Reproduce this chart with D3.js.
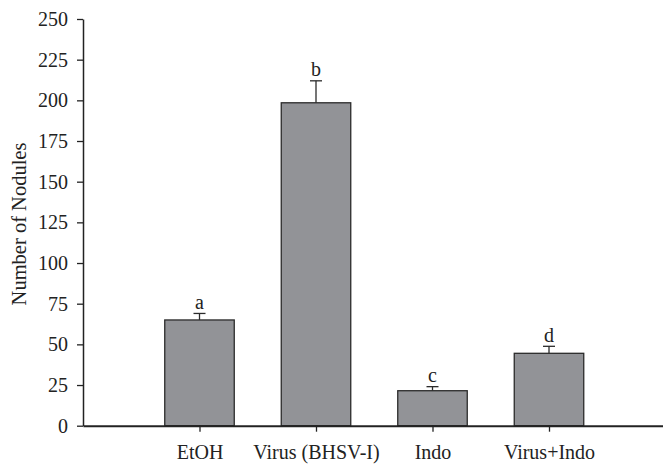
<!DOCTYPE html>
<html>
<head>
<meta charset="utf-8">
<script src="https://cdn.jsdelivr.net/npm/d3@7"></script>
<style>
  html, body { margin: 0; padding: 0; background: #fff; }
  svg text { font-family: "Liberation Serif", "Times New Roman", serif; fill: #222; }
</style>
</head>
<body>
<svg id="chart" width="663" height="465"></svg>
<script>
const categories = ["EtOH", "Virus (BHSV-I)", "Indo", "Virus+Indo"];
const values = [65, 198.5, 21.5, 44.5];
const errors = [4, 13.5, 2.5, 4.3];
const letters = ["a", "b", "c", "d"];
const yTicks = [0, 25, 50, 75, 100, 125, 150, 175, 200, 225, 250];
const yTitle = "Number of Nodules";

const svg = d3.select("#chart");
const x0 = 83, x1 = 665.5, yBottom = 425.7, yTop = 19;

const x = d3.scalePoint().domain(categories).range([x0, x1]).padding(1);
const y = d3.scaleLinear().domain([0, 250]).range([yBottom, yTop]);
const barW = 69.5;
const capW = 12;

// bars
svg.append("g").selectAll("rect").data(categories).join("rect")
  .attr("x", d => x(d) - barW / 2)
  .attr("y", (d, i) => y(values[i]))
  .attr("width", barW)
  .attr("height", (d, i) => y(0) - y(values[i]))
  .attr("fill", "#929397")
  .attr("stroke", "#2b2b2b")
  .attr("stroke-width", 1.3);

// error bars
const eg = svg.append("g").attr("stroke", "#2b2b2b").attr("stroke-width", 1.3);
eg.selectAll("line.v").data(categories).join("line").attr("class", "v")
  .attr("x1", d => x(d)).attr("x2", d => x(d))
  .attr("y1", (d, i) => y(values[i])).attr("y2", (d, i) => y(values[i] + errors[i]));
eg.selectAll("line.c").data(categories).join("line").attr("class", "c")
  .attr("x1", d => x(d) - capW / 2).attr("x2", d => x(d) + capW / 2)
  .attr("y1", (d, i) => y(values[i] + errors[i])).attr("y2", (d, i) => y(values[i] + errors[i]));

// letters
svg.append("g").selectAll("text").data(categories).join("text")
  .attr("x", d => x(d))
  .attr("y", (d, i) => y(values[i] + errors[i]) - 4.5)
  .attr("text-anchor", "middle")
  .attr("font-size", 20)
  .text((d, i) => letters[i]);

// y axis
const yAxis = svg.append("g").attr("transform", `translate(${x0},0)`)
  .call(d3.axisLeft(y).tickValues(yTicks).tickSize(6).tickPadding(9).tickSizeOuter(0));
yAxis.select(".domain").attr("stroke", "#222").attr("stroke-width", 1.5);
yAxis.selectAll(".tick line").attr("stroke", "#222").attr("stroke-width", 1.3);
yAxis.selectAll(".tick text").attr("font-size", 20).attr("font-family", "Liberation Serif").attr("fill", "#222");

// x axis
const xAxis = svg.append("g").attr("transform", `translate(0,${yBottom})`)
  .call(d3.axisBottom(x).tickSize(6).tickPadding(13).tickSizeOuter(0));
xAxis.select(".domain").attr("stroke", "#222").attr("stroke-width", 2);
xAxis.selectAll(".tick line").attr("stroke", "#222").attr("stroke-width", 1.3);
xAxis.selectAll(".tick text").attr("font-size", 20).attr("font-family", "Liberation Serif").attr("fill", "#222");

// y title
svg.append("text")
  .attr("transform", `translate(26,${(140 + 308) / 2}) rotate(-90)`)
  .attr("text-anchor", "middle")
  .attr("font-size", 20.5)
  .text(yTitle);
</script>
</body>
</html>
